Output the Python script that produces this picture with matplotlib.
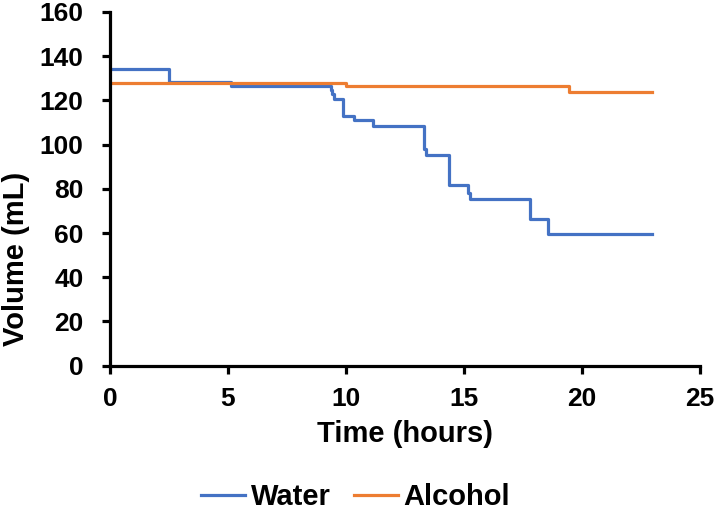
import matplotlib
matplotlib.use("Agg")
import matplotlib.pyplot as plt

water_t = [0, 2.5, 5.13, 9.36, 9.42, 9.5, 9.86, 10.36, 11.15, 13.3, 13.4, 14.36, 15.15, 15.25, 17.8, 18.57, 22.95]
water_v = [134.1, 128.3, 126.5, 124.7, 122.7, 120.6, 113.1, 111.3, 108.5, 98.2, 95.5, 81.7, 78.0, 75.3, 66.2, 59.6, 59.6]
alcohol_t = [0, 10.02, 19.45, 22.95]
alcohol_v = [127.7, 126.5, 123.9, 123.9]
x_ticks = [0, 5, 10, 15, 20, 25]
y_ticks = [0, 20, 40, 60, 80, 100, 120, 140, 160]

plt.rcParams['font.family'] = ['Liberation Sans', 'DejaVu Sans']
plt.rcParams['font.weight'] = 'bold'

fig = plt.figure(figsize=(7.16, 5.18), dpi=100)
ax = fig.add_axes([0.1536, 0.294, 0.8241, 0.683])

ax.plot(water_t, water_v, drawstyle='steps-post', color='#4472C4', lw=2.3, label='Water')
ax.plot(alcohol_t, alcohol_v, drawstyle='steps-post', color='#ED7D31', lw=2.3, label='Alcohol')

ax.set_xlim(0, 25)
ax.set_ylim(0, 160)
ax.set_xticks(x_ticks)
ax.set_yticks(y_ticks)
for s in ['top', 'right']:
    ax.spines[s].set_visible(False)
for s in ['left', 'bottom']:
    ax.spines[s].set_linewidth(2.3)
ax.tick_params(axis='both', direction='out', length=6, width=2.3, labelsize=19)
ax.tick_params(axis='x', pad=9)
ax.tick_params(axis='y', pad=13)
for lab in ax.get_xticklabels() + ax.get_yticklabels():
    lab.set_fontweight('bold')

ax.set_xlabel('Time (hours)', fontsize=21, fontweight='bold', labelpad=7)
ax.set_ylabel('Volume (mL)', fontsize=21, fontweight='bold')
ax.yaxis.set_label_coords(0.042, 0.5, transform=fig.transFigure)

leg = fig.legend(loc='lower center', bbox_to_anchor=(0.497, -0.038), ncol=2, frameon=False,
                 prop={'weight': 'bold', 'size': 21}, handlelength=1.5, columnspacing=0.8,
                 handletextpad=0.2)

fig.savefig('out.png', dpi=100)
